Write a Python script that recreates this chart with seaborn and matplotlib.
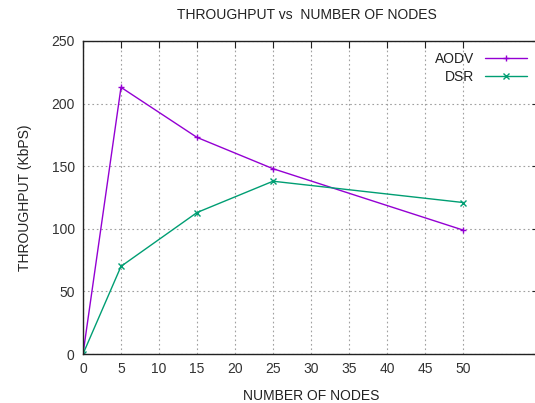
import matplotlib
matplotlib.use("Agg")
import matplotlib.pyplot as plt
import seaborn as sns
import pandas as pd

nodes = [0, 5, 15, 25, 50]
aodv = [0, 213, 173, 148, 99]
dsr = [0, 70, 113, 138, 121]
series_names = ["AODV", "DSR"]
x_ticks = [0, 5, 10, 15, 20, 25, 30, 35, 40, 45, 50]
y_ticks = [0, 50, 100, 150, 200, 250]

sns.set_theme(style="white")
plt.rcParams["font.family"] = ["Liberation Sans", "DejaVu Sans"]

df = pd.DataFrame({
    "nodes": nodes * 2,
    "throughput": aodv + dsr,
    "protocol": [series_names[0]] * len(nodes) + [series_names[1]] * len(nodes),
})

fig = plt.figure(figsize=(5.35, 4.03), dpi=100)
ax = fig.add_axes([83 / 535, 1 - 354 / 403, (539 - 83) / 535, (354 - 41) / 403])

colors = {"AODV": "#9400d3", "DSR": "#009e73"}
markers = {"AODV": "+", "DSR": "x"}
for name in series_names:
    sub = df[df["protocol"] == name]
    sns.lineplot(data=sub, x="nodes", y="throughput", ax=ax, color=colors[name],
                 marker=markers[name], markersize=5, markeredgewidth=1.0,
                 markeredgecolor=colors[name], markerfacecolor=colors[name],
                 linewidth=1.0, label=name)

ax.set_xlim(0, 60)
ax.set_ylim(0, 250)
ax.set_xticks(x_ticks)
ax.set_yticks(y_ticks)
ax.tick_params(direction="in", length=5, width=0.8, top=True, right=True,
               labelsize=10, colors="#222222", pad=6)
ax.tick_params(axis="x", labelcolor="#333333")
ax.tick_params(axis="y", labelcolor="#333333")
ax.grid(True, linestyle=(0, (1.5, 2.5)), color="#a0a0a0", linewidth=0.8)
for s in ax.spines.values():
    s.set_visible(True)
    s.set_color("#222222")
    s.set_linewidth(1.0)

ax.set_xlabel("NUMBER OF NODES", fontsize=10, color="#222222", labelpad=9)
ax.set_ylabel("THROUGHPUT (KbPS)", fontsize=10, color="#222222", labelpad=14)
fig.text(307 / 535, 1 - 15 / 403, "THROUGHPUT vs  NUMBER OF NODES",
         ha="center", va="center", fontsize=10, color="#222222")

leg = ax.legend(loc="upper right", bbox_to_anchor=(0.995, 0.995), frameon=False,
                markerfirst=False, fontsize=10, handlelength=3.0,
                handletextpad=0.8, labelspacing=0.25, borderaxespad=0.3)
for t in leg.get_texts():
    t.set_color("#222222")
    t.set_ha("right")

fig.savefig("out.png", dpi=100)
